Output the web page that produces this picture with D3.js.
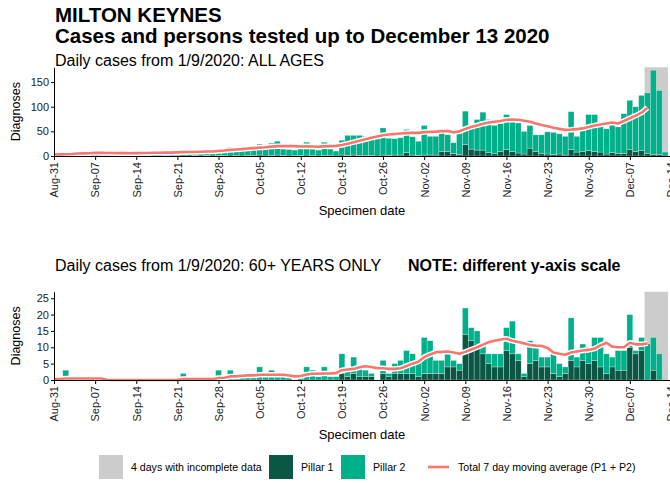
<!DOCTYPE html>
<html>
<head>
<meta charset="utf-8">
<script src="https://cdn.jsdelivr.net/npm/d3@7"></script>
<style>
  body { margin: 0; background: #fff; }
  svg { display: block; font-family: "Liberation Sans", Arial, Helvetica, sans-serif; }
</style>
</head>
<body>
<svg id="chart" width="670" height="483"></svg>
<script>
// ---- data -------------------------------------------------------------
// Daily diagnoses by specimen date, 1 Sep 2020 .. 13 Dec 2020 (104 days)
const firstBarDay = "2020-09-01";
// 7-day moving average series start on 31 Aug and run to 10 Dec
const firstAvgDay = "2020-08-31";
const incompleteDays = 4;

const weekLabels = ["Aug-31","Sep-07","Sep-14","Sep-21","Sep-28","Oct-05","Oct-12",
  "Oct-19","Oct-26","Nov-02","Nov-09","Nov-16","Nov-23","Nov-30","Dec-07","Dec-14"];

const allTicks = [0, 50, 100, 150];
const oldTicks = [0, 5, 10, 15, 20, 25];

// All ages
const allPillar1 = [
  0,1,0,0,1,0,0,1,0,0, 0,1,0,0,0,1,0,0,1,0,
  1,0,0,1,0,1,0,1,1,0, 1,0,1,1,2,0,1,2,1,0,
  1,1,2,1,0,1,1,0,2,1, 2,1,1,1,0,2,1,2,2,7,
  2,1,2,2,2,9,9,5,3,23, 14,12,12,7,5,9,13,9,6,4,
  16,9,5,4,3,4,2,13,8,9, 11,9,8,4,7,5,5,13,9,11,
  5,3,3,0];
const allPillar2 = [
  2,4,4,7,5,4,8,5,5,7, 6,4,4,6,7,5,8,6,6,5,
  8,8,9,6,10,8,8,11,10,18, 13,15,15,13,22,18,25,28,13,13,
  11,15,26,13,12,27,13,10,30,41, 40,41,39,35,35,55,35,33,35,47,
  37,29,60,38,38,45,34,22,44,68, 43,62,77,67,57,57,71,60,61,46,
  46,34,38,45,45,41,38,77,32,43, 73,75,54,51,59,54,81,100,91,112,
  123,171,130,8];
const allAverage = [
  3.0,3.2,3.4,4.0,5.0,5.4,5.6,6.6,6.4,6.0, 6.0,5.8,5.8,5.6,5.8,6.0,6.2,6.6,6.6,6.8,
  6.8,7.4,7.8,8.2,8.2,8.6,9.0,9.2,10.0,11.0, 12.4,13.2,14.0,15.2,16.0,17.0,17.8,19.0,20.0,20.0,
  20.2,20.0,19.4,19.6,19.2,18.8,19.6,20.0,20.6,22.4, 25.0,28.0,31.0,34.0,37.0,39.5,42.0,43.5,44.5,45.5,
  46.5,47.0,47.0,48.5,49.0,49.5,50.5,50.5,48.0,50.0, 55.0,59.0,62.0,65.5,68.0,69.5,71.0,73.5,74.0,73.5,
  71.5,69.5,66.0,63.0,60.5,57.5,55.0,53.0,53.5,54.5, 56.0,59.0,62.0,64.0,66.0,68.0,66.0,71.0,76.5,82.0,
  88.0,98.0];

// 60+ years only
const oldPillar1 = [
  0,0,0,0,0,0,0,0,0,0, 0,0,0,0,0,0,0,0,0,0,
  0,0,0,0,0,0,0,0,0,0, 0,0,0,0,0,0,0,0,0,0,
  0,0,0,0,0,0,0,0,2,1, 2,1,1,1,0,2,1,2,2,2,
  2,1,2,2,2,2,4,4,3,14, 12,11,8,5,4,4,9,8,6,1,
  5,6,4,4,2,1,2,6,4,6, 5,6,4,2,4,3,3,10,8,9,
  0,3,0,0];
const oldPillar2 = [
  0,3,0,0,0,0,0,0,0,0, 0,0,0,0,0,0,0,0,0,0,
  0,2,0,0,0,0,0,3,0,3, 1,1,1,1,4,1,3,1,1,1,
  0,1,4,3,1,4,1,1,6,2, 5,3,2,1,0,4,1,3,4,7,
  6,5,11,10,4,4,5,2,2,8, 4,4,3,3,4,4,7,10,2,1,
  7,5,3,3,6,4,2,13,3,5, 5,7,9,6,3,6,6,10,1,4,
  11,10,8,0];
const oldAverage = [
  0.3,0.3,0.45,0.45,0.45,0.45,0.45,0.45,0.45,0.1, 0,0,0,0,0,0,0,0,0,0,
  0,0.05,0.3,0.3,0.3,0.3,0.3,0.3,0.6,0.7, 1.1,1.1,1.3,1.4,1.4,1.6,1.6,1.6,1.6,1.6,
  1.4,1.1,1.2,1.7,1.9,1.9,2.0,2.0,2.1,3.0, 3.2,3.4,3.9,4.2,4.0,3.6,3.6,3.4,3.4,3.6,
  4.3,5.0,5.6,7.0,7.8,8.5,8.6,8.7,8.4,8.0, 8.6,9.3,10.0,10.8,11.6,12.0,12.4,12.6,12.0,11.6,
  11.2,10.7,10.5,10.4,9.8,8.4,8.0,7.7,8.4,8.7, 9.0,9.2,9.6,10.6,11.4,10.2,10.0,10.0,11.4,10.9,
  10.9,11.2];

// ---- styling ----------------------------------------------------------
const colors = { p1: "#0b5745", p2: "#00b08a", avg: "#f8766d", incomplete: "#cccccc" };

const svg = d3.select("#chart");
const parseDay = d3.utcParse("%Y-%m-%d");
const parseTick = d3.utcParse("%b-%d-%Y");
const tickDates = weekLabels.map(s => parseTick(s + "-2020"));
const fmtTick = d3.utcFormat("%b-%d");

const x = d3.scaleUtc()
  .domain([tickDates[0], d3.utcDay.offset(tickDates[tickDates.length - 1], 0)])
  .range([54, 54 + 5.876 * 105]);
const dayWidth = x(d3.utcDay.offset(tickDates[0], 1)) - x(tickDates[0]);

// ---- titles -----------------------------------------------------------
svg.append("text").attr("x", 55).attr("y", 22)
  .attr("font-size", 20.5).attr("font-weight", "bold").attr("fill", "#000")
  .text("MILTON KEYNES");
svg.append("text").attr("x", 55).attr("y", 43)
  .attr("font-size", 20.5).attr("font-weight", "bold").attr("fill", "#000")
  .text("Cases and persons tested up to December 13 2020");

// ---- panels -----------------------------------------------------------
const panels = [
  { top: 67.3, bottom: 156, yMax: 180, ticks: allTicks,
    p1: allPillar1, p2: allPillar2, avg: allAverage,
    subtitleY: 66, subtitle: "Daily cases from 1/9/2020: ALL AGES", note: null },
  { top: 291.7, bottom: 380, yMax: 27, ticks: oldTicks,
    p1: oldPillar1, p2: oldPillar2, avg: oldAverage,
    subtitleY: 271, subtitle: "Daily cases from 1/9/2020: 60+ YEARS ONLY",
    note: "NOTE: different y-axis scale" }
];

panels.forEach(p => {
  const g = svg.append("g");
  const y = d3.scaleLinear().domain([0, p.yMax]).range([p.bottom, p.top]);

  g.append("text").attr("x", 55).attr("y", p.subtitleY)
    .attr("font-size", 16).attr("fill", "#000").text(p.subtitle);
  if (p.note) {
    g.append("text").attr("x", 408).attr("y", p.subtitleY)
      .attr("font-size", 16).attr("font-weight", "bold").attr("fill", "#000").text(p.note);
  }

  const start = parseDay(firstBarDay);
  const rows = p.p1.map((v, i) => ({
    date: d3.utcDay.offset(start, i), p1: v, p2: p.p2[i]
  }));

  // shaded band for the most recent, incomplete days
  const lastDate = rows[rows.length - 1].date;
  const firstIncomplete = d3.utcDay.offset(lastDate, -(incompleteDays - 1));
  g.append("rect")
    .attr("x", x(firstIncomplete) - dayWidth / 2)
    .attr("y", y(p.yMax))
    .attr("width", x(lastDate) - x(firstIncomplete) + dayWidth)
    .attr("height", y(0) - y(p.yMax))
    .attr("fill", colors.incomplete);

  // stacked bars: Pillar 1 at the bottom, Pillar 2 above
  const stack = d3.stack().keys(["p1", "p2"])(rows);
  g.selectAll("g.layer").data(stack).join("g")
    .attr("class", "layer")
    .attr("fill", d => colors[d.key])
    .selectAll("rect").data(d => d).join("rect")
      .attr("x", d => x(d.data.date) - dayWidth / 2)
      .attr("width", dayWidth)
      .attr("y", d => y(d[1]))
      .attr("height", d => y(d[0]) - y(d[1]))
      .attr("stroke", "#ffffff")
      .attr("stroke-opacity", 0.55)
      .attr("stroke-width", 0.5);

  // moving average line with a white halo
  const avgStart = parseDay(firstAvgDay);
  const avgRows = p.avg.map((v, i) => ({ date: d3.utcDay.offset(avgStart, i), v }));
  const line = d3.line().x(d => x(d.date)).y(d => y(d.v));
  g.append("path").datum(avgRows).attr("d", line)
    .attr("fill", "none").attr("stroke", "#ffffff")
    .attr("stroke-width", 5.5).attr("stroke-linejoin", "round");
  g.append("path").datum(avgRows).attr("d", line)
    .attr("fill", "none").attr("stroke", colors.avg)
    .attr("stroke-width", 2.6).attr("stroke-linejoin", "round");

  // axes
  const xAxis = g.append("g").attr("transform", `translate(0,${p.bottom})`)
    .call(d3.axisBottom(x).tickValues(tickDates).tickFormat(fmtTick)
      .tickSize(4).tickSizeOuter(0));
  xAxis.selectAll("text")
    .attr("font-size", 11).attr("fill", "#222")
    .attr("text-anchor", "end")
    .attr("transform", "rotate(-90)")
    .attr("x", -6).attr("y", 0).attr("dy", "0.35em");
  xAxis.select(".domain").attr("stroke", "#000");
  xAxis.selectAll(".tick line").attr("stroke", "#000");
  xAxis.attr("font-family", null);

  const yAxis = g.append("g").attr("transform", `translate(${x.range()[0]},0)`)
    .call(d3.axisLeft(y).tickValues(p.ticks).tickSize(3).tickSizeOuter(0));
  yAxis.selectAll("text").attr("font-size", 11).attr("fill", "#222").attr("x", -5);
  yAxis.select(".domain").attr("stroke", "#000");
  yAxis.selectAll(".tick line").attr("stroke", "#000");
  yAxis.attr("font-family", null);

  // axis titles
  g.append("text")
    .attr("transform", `translate(20,${(p.top + p.bottom) / 2}) rotate(-90)`)
    .attr("text-anchor", "middle").attr("font-size", 12.5).attr("fill", "#000")
    .text("Diagnoses");
  g.append("text")
    .attr("x", 362).attr("y", p.bottom + 59)
    .attr("text-anchor", "middle").attr("font-size", 13).attr("fill", "#000")
    .text("Specimen date");
});

// ---- legend -----------------------------------------------------------
const legendItems = [
  { type: "box", color: colors.incomplete, label: "4 days with incomplete data", x: 99 },
  { type: "box", color: colors.p1, label: "Pillar 1", x: 269 },
  { type: "box", color: colors.p2, label: "Pillar 2", x: 341 },
  { type: "line", color: colors.avg, label: "Total 7 day moving average (P1 + P2)", x: 428 }
];
const legend = svg.append("g").attr("transform", "translate(0,455)");
legendItems.forEach(item => {
  if (item.type === "box") {
    legend.append("rect").attr("x", item.x).attr("y", 0)
      .attr("width", 24).attr("height", 24).attr("fill", item.color);
    legend.append("text").attr("x", item.x + 32).attr("y", 12).attr("dy", "0.35em")
      .attr("font-size", 10.6).attr("fill", "#000").text(item.label);
  } else {
    legend.append("line").attr("x1", item.x).attr("x2", item.x + 21)
      .attr("y1", 12).attr("y2", 12)
      .attr("stroke", item.color).attr("stroke-width", 2.6);
    legend.append("text").attr("x", item.x + 30).attr("y", 12).attr("dy", "0.35em")
      .attr("font-size", 10.6).attr("fill", "#000").text(item.label);
  }
});
</script>
</body>
</html>
